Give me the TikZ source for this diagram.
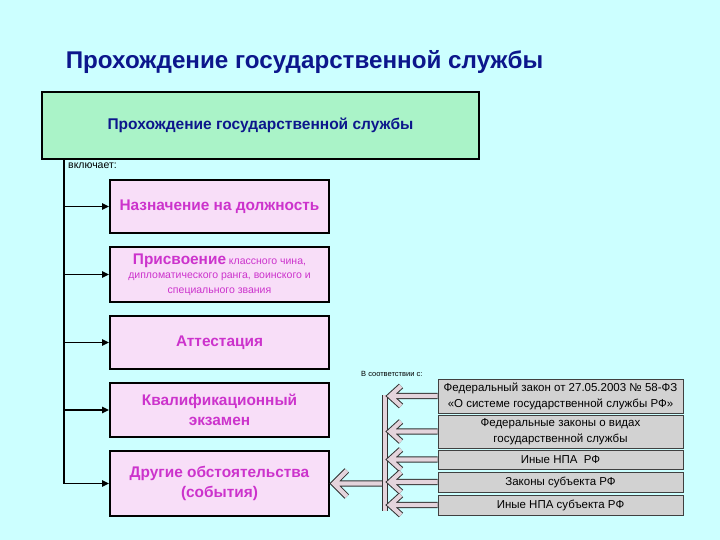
\documentclass[tikz,border=0pt]{standalone}
\usepackage{fontspec}
\setmainfont{Liberation Sans}
\definecolor{bgcyan}{RGB}{204,255,255}
\definecolor{navyblue}{RGB}{12,22,140}
\definecolor{mintgreen}{RGB}{170,243,200}
\definecolor{lilac}{RGB}{248,222,248}
\definecolor{magtext}{RGB}{204,51,204}
\definecolor{lawgray}{RGB}{210,210,210}
\definecolor{arrfill}{RGB}{228,212,220}
\usetikzlibrary{arrows.meta,positioning,calc}

\begin{document}
\begin{tikzpicture}[x=1pt, y=-1pt,
  every node/.style={inner sep=0pt, align=center},
  stagebox/.style={draw=black, line width=1.6pt, fill=lilac, minimum width=219pt, text=magtext, font=\fontsize{15.4}{20}\selectfont\bfseries},
  lawbox/.style={draw=black!75, line width=0.8pt, fill=lawgray, minimum width=245pt, font=\fontsize{11.5}{16}\selectfont},
  incl/.style={line width=1.8pt, -{Triangle[length=7pt,width=6pt]}},
  blockarr/.style={draw=arrfill, line width=4.2pt, line join=miter, preaction={draw=black!80, line width=6.2pt}}]
        % Background
        \useasboundingbox[fill=bgcyan] (0,0) rectangle (720,540);

        % Title
        \node[text=navyblue, font=\fontsize{24.2}{28}\selectfont\bfseries] (title) at (304.5,62) {Прохождение государственной службы};

        % Main box
        \node[draw=black, line width=2.4pt, fill=mintgreen, minimum width=437pt, minimum height=67pt, text=navyblue, font=\fontsize{15.5}{18}\selectfont\bfseries] (main) at (260.5,125.5) {Прохождение государственной службы};
        \node[anchor=west, font=\fontsize{10.5}{12}\selectfont] (incltext) at (68,166) {включает:};

        % Stages
        \node[stagebox, minimum height=53pt] (d1) at (219.5,206.5) {Назначение на должность};
        \node[stagebox, minimum height=55pt, font=\fontsize{10.5}{14.5}\selectfont] (d2) at (219.5,274.5) {{\fontsize{15.4}{14.5}\selectfont\bfseries Присвоение} классного чина,\\
          дипломатического ранга, воинского и\\
          специального звания};
        \node[stagebox, minimum height=53pt] (d3) at (219.5,342.5) {Аттестация};
        \node[stagebox, minimum height=54pt] (d4) at (219.5,410) {Квалификационный\\экзамен};
        \node[stagebox, minimum height=65pt] (d5) at (219.5,483.5) {Другие обстоятельства\\(события)};

        % Spine and arrows
        \coordinate (spine) at (64,0);
        \draw[line width=1.8pt] (main.south -| spine) -- (d5.west -| spine);
        \foreach \i in {1,...,5}
          \draw[incl] (d\i.west -| spine) -- (d\i.west);

        % Legal acts
        \node[anchor=west, font=\fontsize{7.5}{9}\selectfont] (acctext) at (361,374) {В соответствии с:};
        \node[lawbox, minimum height=34pt] (g1) at (560.5,396) {Федеральный закон от 27.05.2003 № 58-ФЗ\\«О системе государственной службы РФ»};
        \node[lawbox, minimum height=33pt] (g2) at (560.5,431.5) {Федеральные законы о видах\\государственной службы};
        \node[lawbox, minimum height=19pt] (g3) at (560.5,459.5) {Иные НПА\ \ РФ};
        \node[lawbox, minimum height=20pt] (g4) at (560.5,482) {Законы субъекта РФ};
        \node[lawbox, minimum height=20pt] (g5) at (560.5,505) {Иные НПА субъекта РФ};

        % Block arrows
        \coordinate (bartop) at (385,395);
        \coordinate (barbot) at (385,511);
        \coordinate (bigtip) at ($(d5.east)+(4,0)$);
        \draw[blockarr] ($(bigtip)+(13,-13)$) -- (bigtip) -- ($(bigtip)+(13,13)$) (bigtip) -- (d5.east -| bartop);
        \draw[blockarr] (bartop) -- (barbot);
        \foreach \g in {g1,g2,g3,g4,g5}{
          \coordinate (tip) at ($(\g.west -| bartop)+(5,0)$);
          \draw[blockarr] ($(tip)+(11,-10)$) -- (tip) -- ($(tip)+(11,10)$) (tip) -- (\g.west);
        }
      \end{tikzpicture}
\end{document}
